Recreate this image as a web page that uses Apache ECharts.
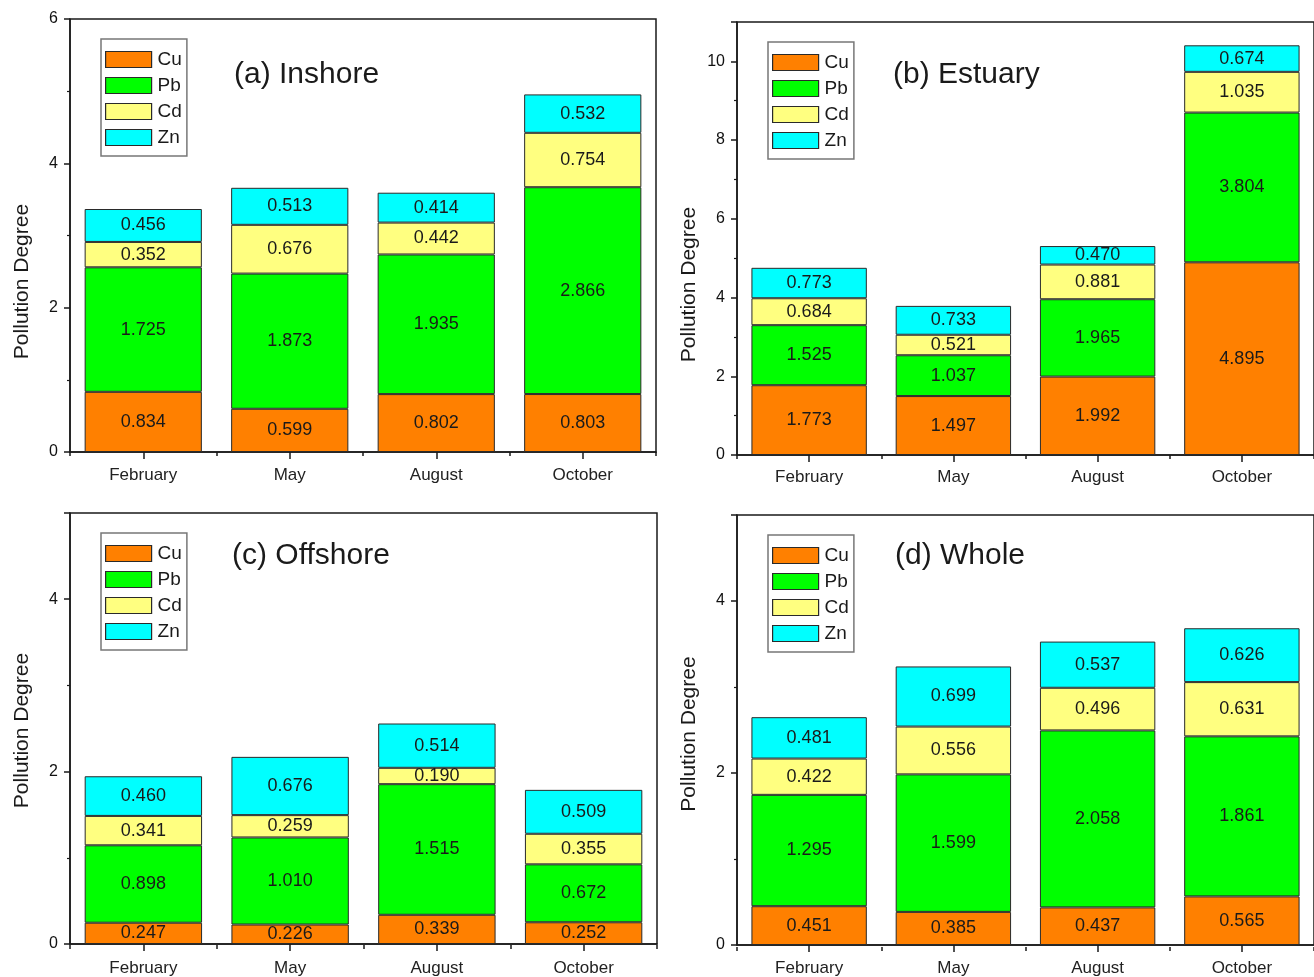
<!DOCTYPE html>
<html>
<head>
<meta charset="utf-8">
<script src="https://cdn.jsdelivr.net/npm/echarts@6/dist/echarts.min.js"></script>
<style>
  html, body { margin: 0; padding: 0; background: #fff; }
  #chart { width: 1314px; height: 977px; }
</style>
</head>
<body>
<div id="chart"></div>
<script>
// Seasonal pollution degree of heavy metals, stacked by element
const months = ['February', 'May', 'August', 'October'];
const metals = ['Cu', 'Pb', 'Cd', 'Zn'];
const metalColors = ['#FF8000', '#00FF00', '#FFFF80', '#00FFFF'];

// (a) Inshore
const inshoreCu = [0.834, 0.599, 0.802, 0.803];
const inshorePb = [1.725, 1.873, 1.935, 2.866];
const inshoreCd = [0.352, 0.676, 0.442, 0.754];
const inshoreZn = [0.456, 0.513, 0.414, 0.532];

// (b) Estuary
const estuaryCu = [1.773, 1.497, 1.992, 4.895];
const estuaryPb = [1.525, 1.037, 1.965, 3.804];
const estuaryCd = [0.684, 0.521, 0.881, 1.035];
const estuaryZn = [0.773, 0.733, 0.470, 0.674];

// (c) Offshore
const offshoreCu = [0.247, 0.226, 0.339, 0.252];
const offshorePb = [0.898, 1.010, 1.515, 0.672];
const offshoreCd = [0.341, 0.259, 0.190, 0.355];
const offshoreZn = [0.460, 0.676, 0.514, 0.509];

// (d) Whole
const wholeCu = [0.451, 0.385, 0.437, 0.565];
const wholePb = [1.295, 1.599, 2.058, 1.861];
const wholeCd = [0.422, 0.556, 0.496, 0.631];
const wholeZn = [0.481, 0.699, 0.537, 0.626];

const panelTitles = ['(a) Inshore', '(b) Estuary', '(c) Offshore', '(d) Whole'];
const yMax = [6, 11, 5, 5];
const yTicks = [2, 2, 2, 2];

const panelData = [
  [inshoreCu, inshorePb, inshoreCd, inshoreZn],
  [estuaryCu, estuaryPb, estuaryCd, estuaryZn],
  [offshoreCu, offshorePb, offshoreCd, offshoreZn],
  [wholeCu, wholePb, wholeCd, wholeZn]
];

// layout of the four plot frames
const frames = [
  { left: 70,  top: 19,  width: 586, height: 433, legendTop: 39,  titleTop: 60,  titleLeft: 234, nameShift: 92, labelGap: 15 },
  { left: 737, top: 22,  width: 584, height: 433, legendTop: 42,  titleTop: 60,  titleLeft: 893, nameShift: 92, labelGap: 14 },
  { left: 70,  top: 513, width: 587, height: 432, legendTop: 533, titleTop: 541, titleLeft: 232, nameShift: 4,  labelGap: 16 },
  { left: 737, top: 515, width: 584, height: 432, legendTop: 535, titleTop: 541, titleLeft: 895, nameShift: 8,  labelGap: 15 }
];

const FONT = "'Liberation Sans', Arial, sans-serif";
const INK = '#1a1a1a';

const grid = [], xAxis = [], yAxis = [], series = [], legend = [], title = [];

frames.forEach((f, p) => {
  grid.push({
    left: f.left, top: f.top, width: f.width, height: f.height,
    show: true, borderColor: INK, borderWidth: 1.5, backgroundColor: 'transparent'
  });

  // main category axis: labels and ticks at category centres
  xAxis.push({
    type: 'category', gridIndex: p, data: months, position: 'bottom',
    axisLine: { lineStyle: { color: INK, width: 1.5 } },
    axisTick: { show: true, alignWithLabel: true, length: 7, lineStyle: { color: INK, width: 1.5 } },
    axisLabel: { color: '#222', fontFamily: FONT, fontSize: 17, margin: f.labelGap },
    splitLine: { show: false }
  });
  // helper axis pulled down onto the baseline: short ticks between categories
  xAxis.push({
    type: 'category', gridIndex: p, data: months, position: 'top',
    offset: -f.height,
    axisLine: { show: false, onZero: false },
    axisTick: { show: true, inside: true, length: 4, lineStyle: { color: INK, width: 1.5 } },
    axisLabel: { show: false },
    splitLine: { show: false }
  });

  yAxis.push({
    type: 'value', gridIndex: p, min: 0, max: yMax[p], interval: yTicks[p],
    name: 'Pollution Degree', nameLocation: 'middle', nameGap: 37,
    nameTextStyle: { color: INK, fontFamily: FONT, fontSize: 21, padding: [0, f.nameShift, 0, 0] },
    axisLine: { show: true, lineStyle: { color: INK, width: 1.5 } },
    axisTick: { show: true, length: 6, lineStyle: { color: INK, width: 1.5 } },
    minorTick: { show: true, splitNumber: 2, length: 3, lineStyle: { color: INK, width: 1.2 } },
    axisLabel: { color: '#111', fontFamily: FONT, fontSize: 16, margin: 12, showMaxLabel: yMax[p] % yTicks[p] === 0 },
    splitLine: { show: false }
  });

  metals.forEach((m, k) => {
    series.push({
      type: 'bar', name: m, stack: 'panel' + p,
      xAxisIndex: p * 2, yAxisIndex: p,
      data: panelData[p][k],
      barCategoryGap: '20%',
      itemStyle: { color: metalColors[k], borderColor: '#2a2a2a', borderWidth: 1 },
      label: {
        show: true, position: 'inside', color: INK, fontFamily: FONT, fontSize: 18,
        formatter: (d) => d.value.toFixed(3)
      },
      emphasis: { disabled: true }
    });
  });

  legend.push({
    data: metals.map((m) => ({ name: m, icon: 'rect' })), orient: 'vertical',
    left: f.left + 31, top: f.legendTop,
    itemWidth: 46, itemHeight: 16, itemGap: 7,
    padding: [11, 5, 9, 4],
    borderColor: '#777', borderWidth: 1.5, backgroundColor: '#fff',
    textStyle: { color: INK, fontFamily: FONT, fontSize: 19, lineHeight: 16, padding: [0, 0, 0, 1] },
    itemStyle: { borderColor: '#2a2a2a', borderWidth: 1.2 },
    selectedMode: false
  });

  title.push({
    text: panelTitles[p], left: f.titleLeft, top: f.titleTop, padding: 0,
    textStyle: { color: INK, fontFamily: FONT, fontSize: 30, fontWeight: 'normal' }
  });
});

const chart = echarts.init(document.getElementById('chart'), null, { renderer: 'canvas' });
chart.setOption({
  backgroundColor: '#fff',
  animation: false,
  title, legend, grid, xAxis, yAxis, series
});
</script>
</body>
</html>
